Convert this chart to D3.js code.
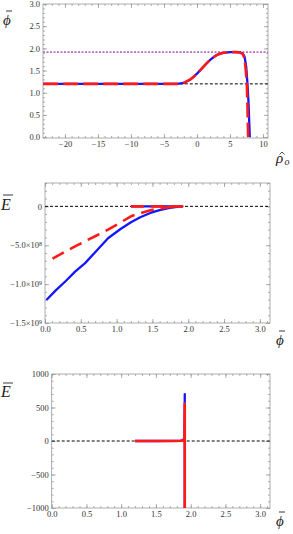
<!DOCTYPE html>
<html lang="en">
	<head>
		<meta charset="utf-8">
		<title>Bounce profile and energy</title>
		<script src="https://d3js.org/d3.v7.min.js"></script>
		<style>
			body { margin: 0; background: #fff; }
			svg text { font-family: "Liberation Serif", "Times New Roman", "DejaVu Serif", serif; }
		</style>
	</head>
	<body>
		<div id="plotContent"></div>
		<script>
// panel 1: phi vs rho (blue solid, red dashed)
var rhoBlue = [-23.3, -3, -2, -1, -0.5, 0, 0.5, 1, 1.5, 2, 2.5, 3, 3.5, 4, 5, 6, 6.5, 6.9, 7.2, 7.45, 7.65, 7.8, 7.9, 8.0];
var phiBlue = [1.2, 1.2, 1.22, 1.3, 1.36, 1.43, 1.51, 1.59, 1.67, 1.74, 1.8, 1.85, 1.88, 1.9, 1.915, 1.915, 1.91, 1.89, 1.82, 1.6, 1.2, 0.8, 0.4, 0.0];
var rhoRed = [-23.3, -3, -2, -1, -0.5, 0, 0.5, 1, 1.5, 2, 2.5, 3, 3.5, 4, 5, 6, 6.5, 6.9, 7.2, 7.4, 7.55, 7.65, 7.75];
var phiRed = [1.2, 1.2, 1.22, 1.3, 1.36, 1.43, 1.51, 1.59, 1.67, 1.74, 1.8, 1.85, 1.88, 1.9, 1.915, 1.915, 1.905, 1.88, 1.78, 1.5, 1.2, 0.7, 0.0];
var phiTrueVac = 1.2, rhoTrueVacStart = -2.6;   // black dashed
var phiFalseVac = 1.915;                         // purple dotted

// panels 2 & 3: E vs phi (same curves, different zoom)
var phiEBlue = [1.2, 1.5, 1.8, 1.86, 1.89, 1.91, 1.915, 1.915, 1.87, 1.74, 1.6, 1.47, 1.33, 1.2, 1.05, 0.88, 0.72, 0.56, 0.42, 0.29, 0.15, 0.02];
var eBlue = [0, 0, 1, 5, 15, 40, 700, -2e6, -5e6, -2e7, -4.8e7, -8.5e7, -1.4e8, -2.05e8, -2.95e8, -4.1e8, -5.7e8, -7.3e8, -8.4e8, -9.6e8, -1.08e9, -1.205e9];
var phiERed = [1.2, 1.5, 1.8, 1.86, 1.89, 1.91, 1.915, 1.915, 1.87, 1.74, 1.6, 1.47, 1.33, 1.2, 1.05, 0.88, 0.72, 0.56, 0.42, 0.29, 0.15, 0.02];
var eRed = [0, 0, 1, 4, 12, 30, 560, -2e6, -3e6, -9e6, -2.8e7, -5.1e7, -8.8e7, -1.28e8, -2.1e8, -2.99e8, -3.75e8, -4.49e8, -5.15e8, -5.77e8, -6.5e8, -7.18e8];

// ticks
var rhoMajor = [-20, -15, -10, -5, 0, 5, 10];
var phiMajor = [0, 0.5, 1, 1.5, 2, 2.5, 3];
var eMajor2 = [0, -5e8, -1e9, -1.5e9];
var eLabels2 = {"0": ["0", ""], "-500000000": ["\u22125.0\u00d710", "8"], "-1000000000": ["\u22121.0\u00d710", "9"], "-1500000000": ["\u22121.5\u00d710", "9"]};
var eMajor3 = [-1000, -500, 0, 500, 1000];

var W = 293, H = 534;
var frameCol = "#9a9a9a", textCol = "#333";
var serif = "'Liberation Serif', 'Times New Roman', serif";

var svg = d3.select("#plotContent")
	.append("svg")
	.attr("width", W)
	.attr("height", H)
	.attr("font-family", serif);

function range(a, b, step) {
	var out = [];
	for (var v = a; v <= b + step / 1000; v += step) out.push(+v.toFixed(6));
	return out;
}

// framed panel with inward ticks on all four sides
function makePanel(id, box, xDom, yDom, xMajor, xMinor, yMajor, yMinor, xFmt, yFmt) {
	var x = d3.scaleLinear().domain(xDom).range([box.l, box.r]);
	var y = d3.scaleLinear().domain(yDom).range([box.b, box.t]);
	var g = svg.append("g");

	svg.append("clipPath").attr("id", id)
		.append("rect")
		.attr("x", box.l).attr("y", box.t)
		.attr("width", box.r - box.l).attr("height", box.b - box.t);

	function styleAxis(sel) {
		sel.attr("font-family", serif);
		sel.select(".domain").remove();
		sel.selectAll("line").attr("stroke", frameCol).attr("stroke-width", 0.8);
		sel.selectAll("text").attr("fill", textCol).style("font-size", "8.5px")
			.style("font-family", serif);
	}
	var xm = xMinor.filter(function (v) { return v >= xDom[0] && v <= xDom[1]; });
	var ym = yMinor.filter(function (v) { return v >= yDom[0] && v <= yDom[1]; });

	// minor ticks
	[["bottom", box.b], ["top", box.t]].forEach(function (s) {
		var ax = (s[0] == "bottom" ? d3.axisBottom(x) : d3.axisTop(x))
			.tickValues(xm).tickSize(-2).tickFormat("");
		g.append("g").attr("transform", "translate(0," + s[1] + ")").call(ax).call(styleAxis);
	});
	[["left", box.l], ["right", box.r]].forEach(function (s) {
		var ax = (s[0] == "left" ? d3.axisLeft(y) : d3.axisRight(y))
			.tickValues(ym).tickSize(-2).tickFormat("");
		g.append("g").attr("transform", "translate(" + s[1] + ",0)").call(ax).call(styleAxis);
	});
	// major ticks
	g.append("g").attr("transform", "translate(0," + box.b + ")")
		.call(d3.axisBottom(x).tickValues(xMajor).tickSize(-4).tickPadding(3).tickFormat(xFmt))
		.call(styleAxis);
	g.append("g").attr("transform", "translate(0," + box.t + ")")
		.call(d3.axisTop(x).tickValues(xMajor).tickSize(-4).tickFormat(""))
		.call(styleAxis);
	var yl = g.append("g").attr("transform", "translate(" + box.l + ",0)")
		.call(d3.axisLeft(y).tickValues(yMajor).tickSize(-4).tickPadding(3).tickFormat(yFmt || null))
		.call(styleAxis);
	g.append("g").attr("transform", "translate(" + box.r + ",0)")
		.call(d3.axisRight(y).tickValues(yMajor).tickSize(-4).tickFormat(""))
		.call(styleAxis);

	g.append("rect")
		.attr("x", box.l).attr("y", box.t)
		.attr("width", box.r - box.l).attr("height", box.b - box.t)
		.attr("fill", "none").attr("stroke", frameCol).attr("stroke-width", 0.8);

	var plot = svg.append("g").attr("clip-path", "url(#" + id + ")");
	return {x: x, y: y, plot: plot, yAxis: yl};
}

function drawLine(p, xs, ys, color, width, dash) {
	var line = d3.line()
		.x(function (d) { return p.x(d[0]); })
		.y(function (d) { return p.y(d[1]); });
	p.plot.append("path")
		.datum(d3.zip(xs, ys))
		.attr("d", line)
		.attr("fill", "none")
		.attr("stroke", color)
		.attr("stroke-width", width)
		.attr("stroke-linejoin", "round")
		.attr("stroke-dasharray", dash || null);
}

// bar labels built from glyph + stroke
function barLabel(x, y, glyph, size, barY, barX0, barX1) {
	svg.append("text").attr("x", x).attr("y", y)
		.style("font-size", size + "px").style("font-style", "italic")
		.style("font-family", serif)
		.attr("fill", "#222").text(glyph);
	svg.append("line").attr("x1", barX0).attr("x2", barX1)
		.attr("y1", barY).attr("y2", barY)
		.attr("stroke", "#222").attr("stroke-width", 0.9);
}

var f1 = d3.format(".1f");

// ---------- panel 1 ----------
var p1 = makePanel("c1", {l: 43, r: 268, t: 4, b: 138},
	[-23.33, 10.76], [-0.02, 3.0],
	rhoMajor, range(-23, 10, 1), [0, 0.5, 1, 1.5, 2, 2.5, 3], range(0, 3, 0.1),
	function (d) { return d3.format("")(d); }, f1);

drawLine(p1, [-23.33, 10.76], [phiFalseVac, phiFalseVac], "#b56fc4", 1.6, "2,1.5");
drawLine(p1, [rhoTrueVacStart, 10.76], [phiTrueVac, phiTrueVac], "#000", 1, "3,2");
drawLine(p1, rhoBlue, phiBlue, "#1515ff", 2.3);
drawLine(p1, rhoRed, phiRed, "#ff1a1a", 2.6, "15,5");

barLabel(3, 25, "\u03d5", 15, 11, 6, 12);
svg.append("text").attr("x", 276).attr("y", 163)
	.style("font-size", "15px").style("font-style", "italic").style("font-family", serif)
	.attr("fill", "#222").text("\u03c1");
svg.append("path").attr("d", "M279.5,154.5 L282,152 L284.5,154.5")
	.attr("fill", "none").attr("stroke", "#222").attr("stroke-width", 0.8);
svg.append("text").attr("x", 284.5).attr("y", 165)
	.style("font-size", "10px").style("font-style", "italic").style("font-family", serif)
	.attr("fill", "#222").text("o");

// ---------- panel 2 ----------
var p2 = makePanel("c2", {l: 45, r: 270, t: 183, b: 323},
	[0, Math.PI], [-1.5e9, 3e8],
	phiMajor, range(0, 3.1, 0.1), eMajor2, range(-1.5e9, 3e8, 1e8),
	f1, function () { return ""; });

p2.yAxis.selectAll(".tick text").each(function (d) {
	var lab = eLabels2[String(d)];
	var t = d3.select(this);
	t.text(lab[0]);
	if (lab[1]) t.append("tspan").attr("dy", "-0.45em").style("font-size", "6px").text(lab[1]);
});

drawLine(p2, [0, Math.PI], [0, 0], "#000", 1, "3,2");
drawLine(p2, phiEBlue, eBlue, "#1515ff", 2.3);
drawLine(p2, phiERed, eRed, "#ff1a1a", 2.6, "13,7");

barLabel(1, 210, "E", 16, 195, 3, 13);
barLabel(276, 345, "\u03d5", 15, 331, 279, 285);

// ---------- panel 3 ----------
var p3 = makePanel("c3", {l: 51.7, r: 270, t: 374, b: 508},
	[0, Math.PI], [-1000, 1000],
	phiMajor, range(0, 3.1, 0.1), eMajor3, range(-1000, 1000, 100),
	f1, d3.format(""));

drawLine(p3, [0, Math.PI], [0, 0], "#000", 1, "3,2");
drawLine(p3, phiEBlue, eBlue, "#1515ff", 2.3);
drawLine(p3, phiERed, eRed, "#ff1a1a", 2.6, "13,7");

barLabel(1, 397, "E", 16, 383, 3, 13);
barLabel(276, 526, "\u03d5", 15, 512, 279, 285);
		</script>
	</body>
</html>
